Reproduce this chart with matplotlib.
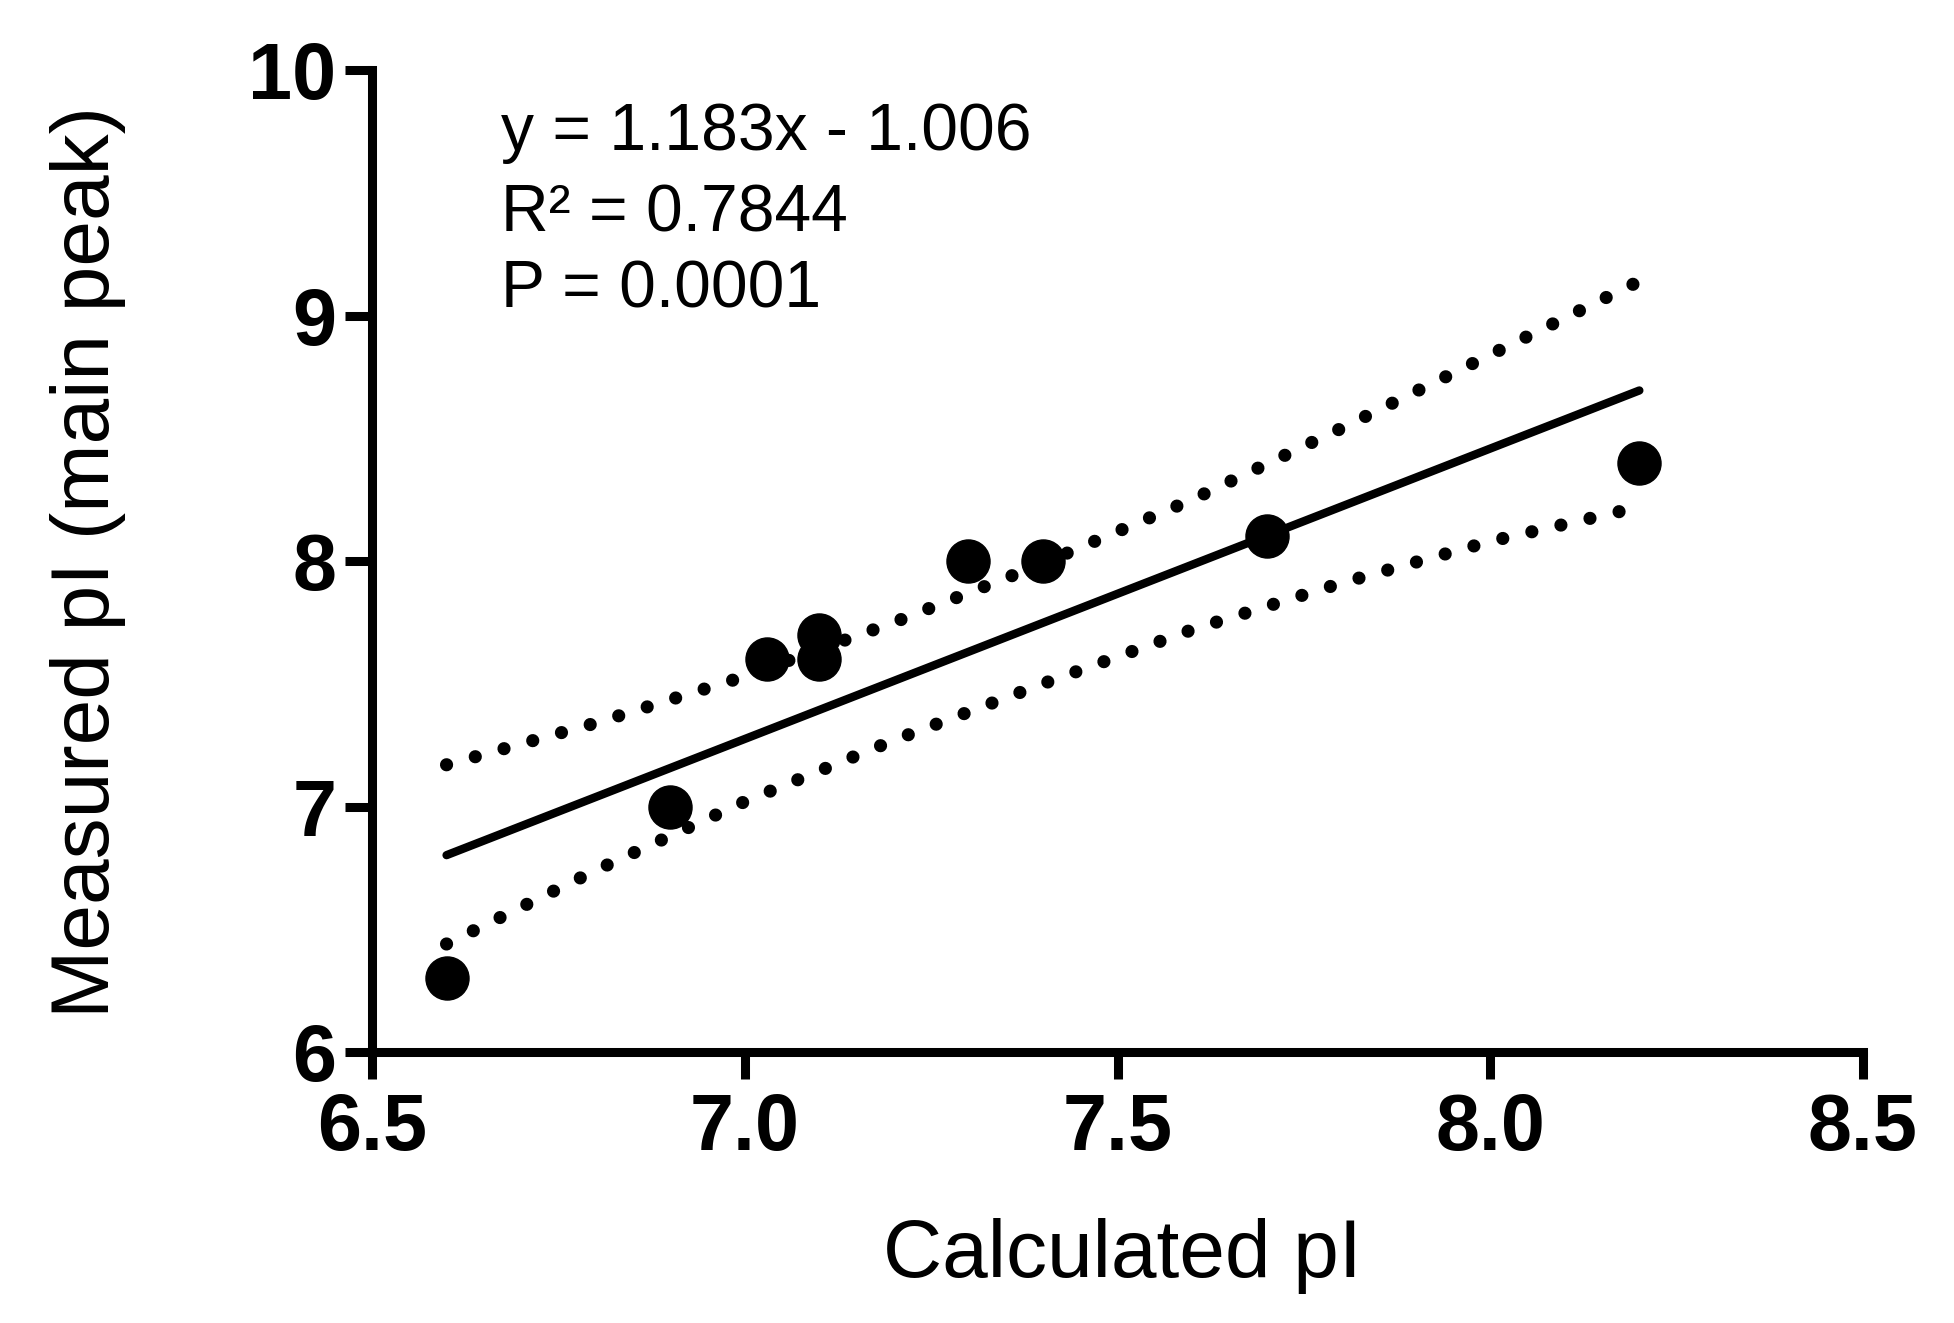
import numpy as np
import matplotlib
matplotlib.use("Agg")
import matplotlib.pyplot as plt

# data
calc_pi = [6.6, 6.9, 7.03, 7.1, 7.1, 7.3, 7.4, 7.7, 8.2]
meas_pi = [6.3, 7.0, 7.6, 7.7, 7.6, 8.0, 8.0, 8.1, 8.4]

slope = 1.183
intercept = -1.006
fit_x = [6.6, 8.2]

# 95% band, read at a few x positions
band_x = [6.6, 6.8, 7.0, 7.2, 7.4, 7.6, 7.8, 8.0, 8.2]
band_upper = [7.17, 7.34, 7.53, 7.75, 7.99, 8.25, 8.54, 8.84, 9.14]
band_lower = [6.44, 6.74, 7.02, 7.27, 7.50, 7.72, 7.91, 8.08, 8.22]

xticks = [6.5, 7.0, 7.5, 8.0, 8.5]
xtick_labels = ["6.5", "7.0", "7.5", "8.0", "8.5"]
yticks = [6, 7, 8, 9, 10]
ytick_labels = ["6", "7", "8", "9", "10"]

stats_lines = ["y = 1.183x - 1.006", "R\u00b2 = 0.7844", "P = 0.0001"]

plt.rcParams['font.family'] = ['Liberation Sans', 'DejaVu Sans']

W, H = 1954, 1323
fig = plt.figure(figsize=(W / 100, H / 100), dpi=100)
ax = fig.add_axes([372 / W, 1 - 1052 / H, (1863 - 372) / W, (1052 - 70) / H])

# regression line
fx = np.array(fit_x)
ax.plot(fx, slope * fx + intercept, color='black', lw=6, solid_capstyle='round', zorder=2)

# confidence band, dotted
dot = (0, (0.001, 2.26))
ax.plot(band_x, band_upper, color='black', lw=9.5, linestyle=dot, dash_capstyle='round', zorder=2)
ax.plot(band_x, band_lower, color='black', lw=9.5, linestyle=dot, dash_capstyle='round', zorder=2)

# points
ax.plot(calc_pi, meas_pi, 'o', color='black', ms=31, mec='black', zorder=3, clip_on=False)

ax.set_xlim(6.5, 8.5)
ax.set_ylim(6, 10)
ax.set_xticks(xticks)
ax.set_xticklabels(xtick_labels)
ax.set_yticks(yticks)
ax.set_yticklabels(ytick_labels)

for s in ['top', 'right']:
    ax.spines[s].set_visible(False)
for s in ['left', 'bottom']:
    ax.spines[s].set_linewidth(6.5)
    ax.spines[s].set_capstyle('projecting')

ax.tick_params(axis='both', direction='out', length=19.5, width=6.5, labelsize=57)
ax.tick_params(axis='x', pad=9)
ax.tick_params(axis='y', pad=6)
for lab in ax.get_xticklabels() + ax.get_yticklabels():
    lab.set_fontweight('bold')

# axis labels
fig.text(1122 / W, 1 - 1277 / H, "Calculated pI", fontsize=59, ha='center', va='baseline')
fig.text(88 / W, 1 - 562 / H, "Measured pI (main peak)", fontsize=59, rotation=90,
         ha='center', va='center')

# stats text
baselines = [150, 232, 307]
for line, b in zip(stats_lines, baselines):
    fig.text(501 / W, 1 - b / H, line, fontsize=47.5, ha='left', va='baseline')

fig.savefig("out.png", dpi=100, facecolor='white')
